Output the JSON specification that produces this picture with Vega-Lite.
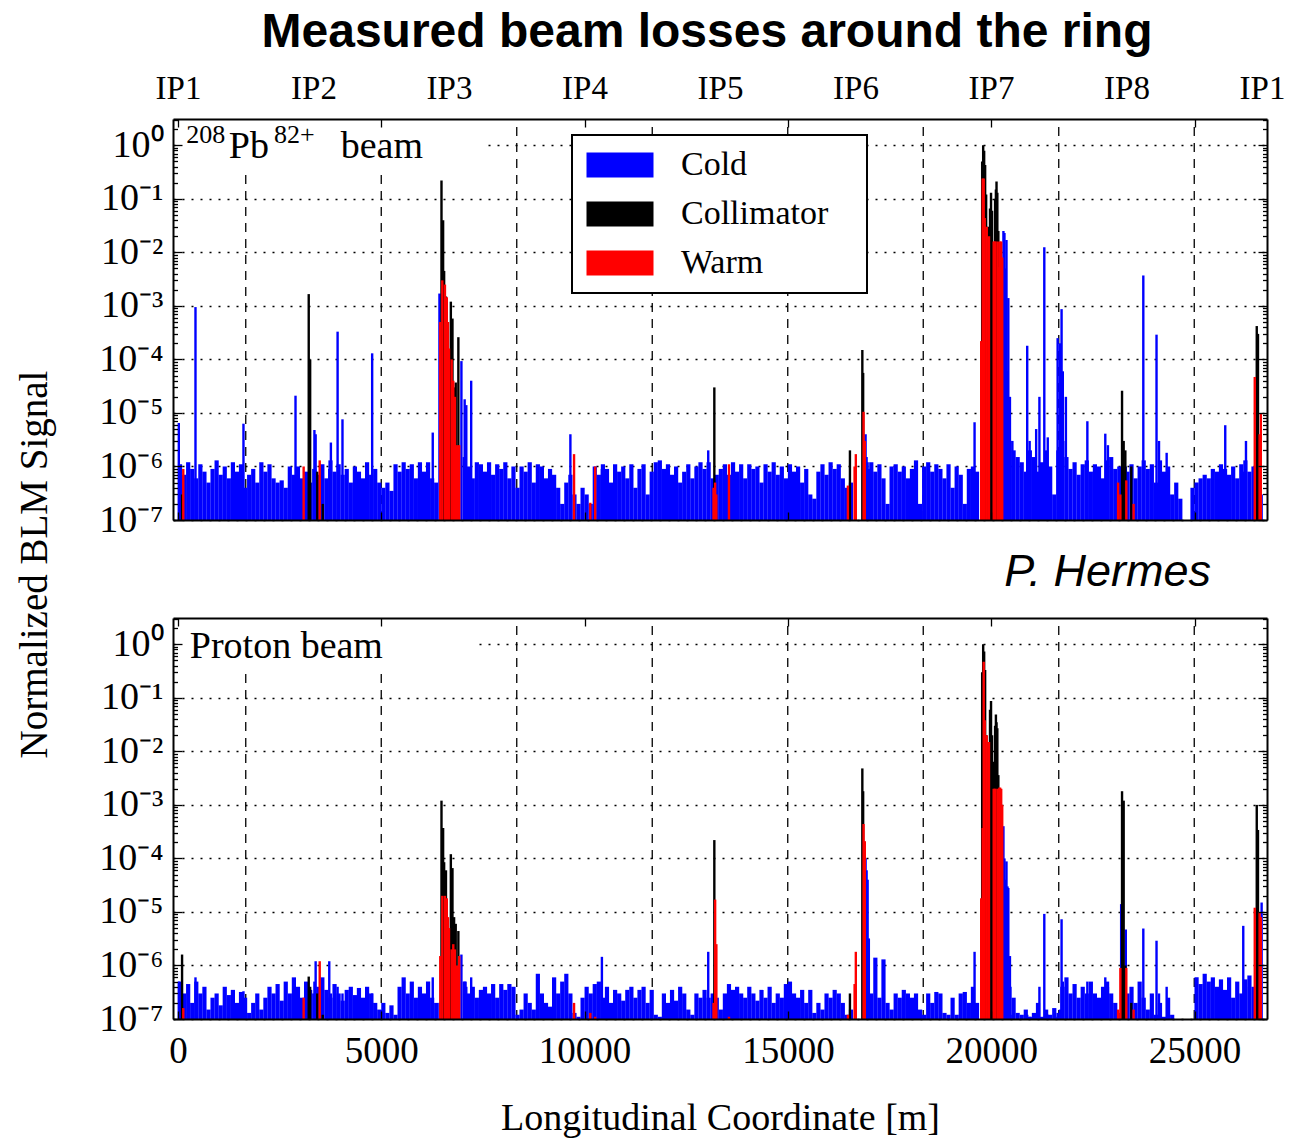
{
  "$schema": "https://vega.github.io/schema/vega-lite/v6.json",
  "autosize": {"type": "pad"},
  "padding": {"left": 15, "top": 9, "right": 5, "bottom": 5},
  "background": "white",
  "config": {
    "view": {"stroke": null},
    "font": "Liberation Serif",
    "axis": {"labelFont": "Liberation Serif", "titleFont": "Liberation Serif", "labelColor": "black", "titleColor": "black", "tickColor": "black", "domainColor": "black", "titleFontWeight": "normal"},
    "legend": {"strokeWidth": 2}
  },
  "title": {"text": "Measured beam losses around the ring", "font": "Liberation Sans", "fontSize": 48, "fontWeight": "bold", "color": "black", "anchor": "middle", "frame": "group", "dx": -13, "offset": 15},
  "datasets": {
    "oct": [{"x": 1666.2}, {"x": 4998.6}, {"x": 8331}, {"x": 11663.3}, {"x": 14995.7}, {"x": 18328}, {"x": 21660.4}, {"x": 24992.8}],
    "noise": [
      {"x":50,"a":1.1e-6,"b":5e-7},{"x":150,"a":7e-7,"b":3e-7},{"x":250,"a":1.2e-6,"b":4.5e-7},{"x":350,"a":9e-7,"b":2e-7},{"x":450,"a":6e-7,"b":5e-7},
      {"x":550,"a":1.1e-6,"b":3e-7},{"x":650,"a":8e-7,"b":4e-7},{"x":750,"a":5e-7,"b":1.5e-7},{"x":850,"a":9e-7,"b":2.5e-7},{"x":950,"a":1.3e-6,"b":3e-7},
      {"x":1050,"a":7e-7,"b":1.8e-7},{"x":1150,"a":1e-6,"b":4e-7},{"x":1250,"a":6e-7,"b":2.8e-7},{"x":1350,"a":1.2e-6,"b":3.5e-7},{"x":1450,"a":8e-7,"b":2e-7},
      {"x":1550,"a":1.1e-6,"b":3.2e-7},{"x":1650,"a":4e-7,"b":2.5e-7},{"x":1750,"a":7e-7,"b":1.3e-7},{"x":1850,"a":9e-7,"b":2e-7},{"x":1950,"a":5e-7,"b":3e-7},
      {"x":2050,"a":1.2e-6,"b":1.5e-7},{"x":2150,"a":8e-7,"b":2.5e-7},{"x":2250,"a":1.1e-6,"b":4e-7},{"x":2350,"a":6e-7,"b":3e-7},{"x":2450,"a":5e-7,"b":4.5e-7},
      {"x":2550,"a":5.5e-7,"b":2.2e-7},{"x":2650,"a":4e-7,"b":5e-7},{"x":2750,"a":1e-6,"b":3e-7},{"x":2850,"a":7e-7,"b":6e-7},{"x":2950,"a":1e-6,"b":4e-7},
      {"x":3050,"a":6e-7,"b":2.5e-7},{"x":3150,"a":8e-7,"b":5e-7},{"x":3250,"a":5e-7,"b":3.5e-7},{"x":3350,"a":9e-7,"b":3e-7},{"x":3450,"a":7e-7,"b":4e-7},
      {"x":3550,"a":1.1e-6,"b":6e-7},{"x":3650,"a":6e-7,"b":3.5e-7},{"x":3750,"a":1.3e-6,"b":2.5e-7},{"x":3850,"a":8e-7,"b":4.5e-7},{"x":3950,"a":1.1e-6,"b":3e-7},
      {"x":4050,"a":7e-7,"b":2.2e-7},{"x":4150,"a":9e-7,"b":3.5e-7},{"x":4250,"a":5e-7,"b":4e-7},{"x":4350,"a":1e-6,"b":2.8e-7},{"x":4450,"a":8e-7,"b":3.8e-7},
      {"x":4550,"a":6e-7,"b":2.5e-7},{"x":4650,"a":1.2e-6,"b":4e-7},{"x":4750,"a":7e-7,"b":3e-7},{"x":4850,"a":9e-7,"b":2e-7},{"x":4950,"a":5e-7,"b":1.5e-7},
      {"x":5050,"a":4e-7,"b":2e-7},{"x":5150,"a":5e-7,"b":1.3e-7},{"x":5250,"a":3.5e-7,"b":1.8e-7},{"x":5350,"a":1.1e-6,"b":1.2e-7},{"x":5450,"a":8e-7,"b":4e-7},
      {"x":5550,"a":1.2e-6,"b":6e-7},{"x":5650,"a":9e-7,"b":3e-7},{"x":5750,"a":1.1e-6,"b":5e-7},{"x":5850,"a":6e-7,"b":2.5e-7},{"x":5950,"a":1.2e-6,"b":4e-7},
      {"x":6050,"a":8e-7,"b":3e-7},{"x":6150,"a":1.2e-6,"b":5e-7},{"x":6250,"a":6e-7,"b":2.5e-7},{"x":6350,"a":5e-7,"b":2e-7},
      {"x":7050,"a":1.5e-6,"b":5e-7},{"x":7150,"a":1e-6,"b":3e-7},{"x":7250,"a":6e-7,"b":4e-7},{"x":7350,"a":1.2e-6,"b":2.5e-7},{"x":7450,"a":1.1e-6,"b":3.5e-7},
      {"x":7550,"a":8e-7,"b":4e-7},{"x":7650,"a":1.2e-6,"b":3e-7},{"x":7750,"a":7e-7,"b":4.5e-7},{"x":7850,"a":1.1e-6,"b":2.5e-7},{"x":7950,"a":9e-7,"b":4.5e-7},
      {"x":8050,"a":1.2e-6,"b":3.5e-7},{"x":8150,"a":6e-7,"b":4.5e-7},{"x":8250,"a":1e-6,"b":4e-7},{"x":8350,"a":4e-7,"b":1.2e-7},{"x":8450,"a":1e-6,"b":1.5e-7},
      {"x":8550,"a":8e-7,"b":3e-7},{"x":8650,"a":1.2e-6,"b":2e-7},{"x":8750,"a":5e-7,"b":1.5e-7},{"x":8850,"a":1.1e-6,"b":7e-7},{"x":8950,"a":1e-6,"b":3e-7},
      {"x":9050,"a":6e-7,"b":2e-7},{"x":9150,"a":9e-7,"b":1.7e-7},{"x":9250,"a":7e-7,"b":6e-7},{"x":9350,"a":4e-7,"b":3e-7},{"x":9450,"a":2e-7,"b":5e-7},
      {"x":9550,"a":5e-7,"b":7e-7},{"x":9650,"a":7e-7,"b":3e-7},{"x":9750,"a":3e-7,"b":1.3e-7},{"x":9850,"a":2e-7,"b":1.1e-7},{"x":9950,"a":4e-7,"b":2.5e-7},
      {"x":10050,"a":3e-7,"b":4e-7},{"x":10150,"a":2e-7,"b":3e-7},{"x":10250,"a":1e-6,"b":4.5e-7},{"x":10350,"a":7e-7,"b":5e-7},{"x":10450,"a":1.1e-6,"b":2.5e-7},
      {"x":10550,"a":9e-7,"b":4e-7},{"x":10650,"a":5e-7,"b":2e-7},{"x":10750,"a":1.1e-6,"b":3.5e-7},{"x":10850,"a":8e-7,"b":3e-7},{"x":10950,"a":1e-6,"b":2.2e-7},
      {"x":11050,"a":6e-7,"b":3.5e-7},{"x":11150,"a":1.1e-6,"b":4e-7},{"x":11250,"a":4e-7,"b":2.5e-7},{"x":11350,"a":9e-7,"b":3.5e-7},{"x":11450,"a":1.1e-6,"b":4e-7},
      {"x":11550,"a":3e-7,"b":2e-7},{"x":11650,"a":8e-7,"b":3.5e-7},{"x":11750,"a":1.2e-6,"b":1.2e-7},{"x":11850,"a":1.3e-6,"b":1.1e-7},{"x":11950,"a":9e-7,"b":3e-7},
      {"x":12050,"a":1.1e-6,"b":2e-7},{"x":12150,"a":7e-7,"b":3.5e-7},{"x":12250,"a":1e-6,"b":2.2e-7},{"x":12350,"a":5e-7,"b":4e-7},{"x":12450,"a":8e-7,"b":3e-7},
      {"x":12550,"a":1.1e-6,"b":1.5e-7},{"x":12650,"a":6e-7,"b":1.2e-7},{"x":12750,"a":1e-6,"b":3e-7},{"x":12850,"a":1.2e-6,"b":2.5e-7},{"x":12950,"a":9e-7,"b":3.5e-7},
      {"x":13050,"a":1.2e-6,"b":2.5e-7},{"x":13150,"a":6e-7,"b":3e-7},{"x":13250,"a":7e-7,"b":2.5e-7},{"x":13350,"a":9e-7,"b":1.5e-7},{"x":13450,"a":1.1e-6,"b":3e-7},
      {"x":13550,"a":7e-7,"b":4.5e-7},{"x":13650,"a":1.2e-6,"b":3.5e-7},{"x":13750,"a":8e-7,"b":4e-7},{"x":13850,"a":1.1e-6,"b":3e-7},{"x":13950,"a":6e-7,"b":2.5e-7},
      {"x":14050,"a":1.1e-6,"b":4e-7},{"x":14150,"a":9e-7,"b":3e-7},{"x":14250,"a":1e-6,"b":2.2e-7},{"x":14350,"a":5e-7,"b":3.5e-7},{"x":14450,"a":1.1e-6,"b":2.5e-7},
      {"x":14550,"a":8e-7,"b":4e-7},{"x":14650,"a":1.2e-6,"b":2e-7},{"x":14750,"a":7e-7,"b":3e-7},{"x":14850,"a":1e-6,"b":2.5e-7},{"x":14950,"a":6e-7,"b":4.5e-7},
      {"x":15050,"a":1.1e-6,"b":5e-7},{"x":15150,"a":8e-7,"b":3e-7},{"x":15250,"a":1e-6,"b":2.5e-7},{"x":15350,"a":5e-7,"b":3.5e-7},{"x":15450,"a":9e-7,"b":2e-7},
      {"x":15550,"a":3e-7,"b":3.5e-7},{"x":15650,"a":2.5e-7,"b":1.3e-7},{"x":15750,"a":8e-7,"b":2e-7},{"x":15850,"a":1.1e-6,"b":1.5e-7},{"x":15950,"a":7e-7,"b":3e-7},
      {"x":16050,"a":1.2e-6,"b":2.5e-7},{"x":16150,"a":9e-7,"b":3.5e-7},{"x":16250,"a":1.1e-6,"b":3e-7},{"x":16350,"a":6e-7,"b":2e-7},{"x":16450,"a":4e-7,"b":1.2e-7},
      {"x":16550,"a":5e-7,"b":1.5e-7},
      {"x":17050,"a":1.2e-6,"b":3e-7},{"x":17150,"a":8e-7,"b":1.4e-6},{"x":17250,"a":1.1e-6,"b":2.5e-7},{"x":17350,"a":6e-7,"b":1.3e-6},{"x":17450,"a":2e-7,"b":2e-7},
      {"x":17550,"a":1e-6,"b":1.5e-7},{"x":17650,"a":1.1e-6,"b":3e-7},{"x":17750,"a":8e-7,"b":2.5e-7},{"x":17850,"a":1e-6,"b":3.5e-7},{"x":17950,"a":6e-7,"b":3e-7},
      {"x":18050,"a":9e-7,"b":2.5e-7},{"x":18150,"a":1.3e-6,"b":3e-7},{"x":18250,"a":2e-7,"b":1.5e-7},{"x":18350,"a":1e-6,"b":1.2e-7},{"x":18450,"a":1.2e-6,"b":3e-7},
      {"x":18550,"a":8e-7,"b":2e-7},{"x":18650,"a":1.1e-6,"b":3.2e-7},{"x":18750,"a":9e-7,"b":3e-7},{"x":18850,"a":6e-7,"b":1.3e-7},{"x":18950,"a":1.1e-6,"b":1.2e-7},
      {"x":19050,"a":4e-7,"b":2.5e-7},{"x":19150,"a":1e-6,"b":1.2e-7},{"x":19250,"a":7e-7,"b":3e-7},{"x":19350,"a":2e-7,"b":3.2e-7},{"x":19450,"a":9e-7,"b":2e-7},
      {"x":19550,"a":1e-6,"b":4e-7},{"x":19650,"a":8e-7,"b":2e-7},
      {"x":20350,"a":5e-6,"b":6e-7},{"x":20450,"a":3e-6,"b":4e-7},{"x":20550,"a":2e-6,"b":2.5e-7},{"x":20650,"a":1.5e-6,"b":1.3e-7},{"x":20750,"a":1.2e-6,"b":1.2e-7},
      {"x":20850,"a":8e-7,"b":1.5e-7},{"x":20950,"a":2e-6,"b":1.1e-7},{"x":21050,"a":1.5e-6,"b":1.3e-7},{"x":21150,"a":8e-7,"b":2e-7},{"x":21250,"a":1.2e-6,"b":1.1e-7},
      {"x":21350,"a":2e-6,"b":1.5e-7},{"x":21450,"a":1e-6,"b":1.2e-7},{"x":21550,"a":3e-7,"b":1.6e-7},{"x":21650,"a":2e-6,"b":1.1e-7},{"x":21750,"a":3e-6,"b":4e-7},
      {"x":21850,"a":1.5e-6,"b":6e-7},{"x":21950,"a":9e-7,"b":3e-7},{"x":22050,"a":1.2e-6,"b":4.5e-7},{"x":22150,"a":7e-7,"b":2.5e-7},{"x":22250,"a":1.1e-6,"b":4e-7},
      {"x":22350,"a":1.3e-6,"b":3e-7},{"x":22450,"a":8e-7,"b":5e-7},{"x":22550,"a":1.1e-6,"b":3e-7},{"x":22650,"a":1e-6,"b":2.5e-7},{"x":22750,"a":6e-7,"b":4e-7},
      {"x":22850,"a":1.3e-6,"b":5e-7},{"x":22950,"a":1.5e-6,"b":3e-7},{"x":23050,"a":9e-7,"b":2e-7},{"x":23150,"a":1e-6,"b":1.3e-7},
      {"x":23350,"a":8e-7,"b":3e-7},{"x":23450,"a":1.1e-6,"b":4e-7},{"x":23550,"a":6e-7,"b":2e-7},{"x":23650,"a":1e-6,"b":5e-7},{"x":23750,"a":1.3e-6,"b":2.5e-7},
      {"x":23850,"a":9e-7,"b":1.5e-7},{"x":23950,"a":1.1e-6,"b":3e-7},{"x":24050,"a":5e-7,"b":1.2e-7},{"x":24150,"a":1.3e-6,"b":2e-7},{"x":24250,"a":8e-7,"b":1.1e-7},
      {"x":24350,"a":1e-6,"b":2.5e-7},{"x":24450,"a":3e-7,"b":1.2e-7},{"x":24550,"a":5e-7,"b":null},{"x":24650,"a":2.5e-7,"b":null},{"x":24950,"a":4e-7,"b":null},
      {"x":25050,"a":5e-7,"b":6e-7},{"x":25150,"a":6e-7,"b":4.5e-7},{"x":25250,"a":7e-7,"b":7e-7},{"x":25350,"a":6e-7,"b":5e-7},{"x":25450,"a":9e-7,"b":6e-7},
      {"x":25550,"a":8e-7,"b":4e-7},{"x":25650,"a":1.1e-6,"b":5.5e-7},{"x":25750,"a":9e-7,"b":3.5e-7},{"x":25850,"a":7e-7,"b":6e-7},{"x":25950,"a":1e-6,"b":2.5e-7},
      {"x":26050,"a":6e-7,"b":5e-7},{"x":26150,"a":1.1e-6,"b":3e-7},{"x":26250,"a":1.3e-6,"b":5.5e-7},{"x":26350,"a":8e-7,"b":6.5e-7},{"x":26450,"a":1e-6,"b":4e-7},
      {"x":26550,"a":7e-7,"b":3e-7}
    ],
    "peaks": [
      {"x":20,"t":"Cold","a":6.5e-6,"b":5e-7},{"x":100,"t":"Collimator","a":3e-7,"b":1.6e-6},{"x":130,"t":"Warm","a":9e-7,"b":1.6e-7},
      {"x":430,"t":"Cold","a":9.5e-4,"b":6e-7},{"x":1610,"t":"Cold","a":6.3e-6,"b":3.3e-7},{"x":2890,"t":"Cold","a":2.1e-5,"b":2.5e-7},
      {"x":3090,"t":"Warm","a":1e-6,"b":2.5e-7},{"x":3215,"t":"Collimator","a":1.66e-3,"b":6.2e-7},{"x":3250,"t":"Collimator","a":1e-4,"b":4e-7},
      {"x":3355,"t":"Cold","a":4.8e-6,"b":5e-7},{"x":3385,"t":"Cold","a":4e-6,"b":1.2e-6},{"x":3425,"t":"Collimator","a":8e-7,"b":3e-7},
      {"x":3485,"t":"Warm","a":1.3e-6,"b":1.2e-6},{"x":3560,"t":"Collimator","a":2e-7,"b":1.2e-7},{"x":3720,"t":"Cold","a":9e-7,"b":1.2e-6},
      {"x":3760,"t":"Cold","a":2.8e-6,"b":3e-7},{"x":3925,"t":"Cold","a":3.3e-4,"b":4e-7},{"x":4045,"t":"Cold","a":7.6e-6,"b":3e-7},
      {"x":4775,"t":"Cold","a":1.3e-4,"b":3e-7},{"x":6265,"t":"Cold","a":4.3e-6,"b":6e-7},
      {"x":6430,"t":"Cold","a":1.7e-3,"b":2e-7},{"x":6450,"t":"Warm","a":5e-4,"b":1.5e-6},{"x":6480,"t":"Collimator","a":0.22,"b":1.2e-3},
      {"x":6500,"t":"Warm","a":3e-3,"b":2e-5},{"x":6520,"t":"Collimator","a":0.04,"b":3.7e-4},{"x":6545,"t":"Collimator","a":4.5e-3,"b":8.5e-5},
      {"x":6565,"t":"Warm","a":2.5e-3,"b":2e-5},{"x":6590,"t":"Collimator","a":1.5e-3,"b":6e-5},{"x":6610,"t":"Warm","a":1.45e-3,"b":1.8e-5},
      {"x":6640,"t":"Warm","a":5e-4,"b":8e-6},{"x":6665,"t":"Warm","a":1.6e-4,"b":5e-6},{"x":6710,"t":"Collimator","a":1.2e-3,"b":1.2e-4},
      {"x":6730,"t":"Warm","a":1e-4,"b":2e-6},{"x":6750,"t":"Collimator","a":5.8e-4,"b":6.6e-5},{"x":6770,"t":"Warm","a":4e-5,"b":2.5e-6},
      {"x":6790,"t":"Collimator","a":3e-5,"b":8e-6},{"x":6810,"t":"Warm","a":2e-5,"b":2e-6},{"x":6830,"t":"Collimator","a":3.7e-5,"b":6e-6},
      {"x":6860,"t":"Warm","a":2.5e-6,"b":1e-6},{"x":6895,"t":"Collimator","a":2.6e-4,"b":4.4e-6},{"x":6915,"t":"Warm","a":2.5e-6,"b":1.5e-6},
      {"x":6970,"t":"Cold","a":9.3e-5,"b":1.6e-6},{"x":7050,"t":"Cold","a":1.8e-5,"b":5e-7},{"x":7090,"t":"Cold","a":1.4e-5,"b":4e-7},
      {"x":7210,"t":"Cold","a":4e-5,"b":6e-7},
      {"x":9650,"t":"Cold","a":4e-6,"b":2.5e-7},{"x":9740,"t":"Warm","a":1.7e-6,"b":2e-7},{"x":10140,"t":"Warm","a":2.1e-7,"b":1.3e-7},
      {"x":10260,"t":"Warm","a":1e-6,"b":1.1e-7},{"x":10425,"t":"Cold","a":9e-7,"b":1.45e-6},
      {"x":13040,"t":"Cold","a":2e-6,"b":1.8e-6},{"x":13170,"t":"Warm","a":4e-7,"b":2e-7},{"x":13190,"t":"Collimator","a":3e-5,"b":2.2e-4},
      {"x":13210,"t":"Warm","a":5e-7,"b":1.7e-5},{"x":13240,"t":"Warm","a":3e-7,"b":2.5e-6},{"x":13550,"t":"Warm","a":1.1e-6,"b":1.1e-7},
      {"x":16475,"t":"Warm","a":4.4e-7,"b":1.2e-7},{"x":16525,"t":"Collimator","a":2e-6,"b":3e-7},{"x":16640,"t":"Warm","a":1e-6,"b":4.5e-7},
      {"x":16670,"t":"Warm","a":1.7e-6,"b":1.8e-6},{"x":16830,"t":"Collimator","a":1.5e-4,"b":4.8e-3},{"x":16850,"t":"Collimator","a":5.6e-5,"b":1.8e-3},
      {"x":16860,"t":"Warm","a":1.05e-5,"b":4.4e-4},{"x":16890,"t":"Warm","a":3e-6,"b":2.1e-4},{"x":16910,"t":"Cold","a":4e-6,"b":1e-4},
      {"x":16935,"t":"Cold","a":1.5e-6,"b":6e-5},{"x":16960,"t":"Cold","a":1.2e-6,"b":4e-5},{"x":16990,"t":"Cold","a":9e-7,"b":3.2e-6},
      {"x":19590,"t":"Cold","a":6.7e-6,"b":1.8e-6},{"x":19753,"t":"Warm","a":2.2e-4,"b":1.8e-5},{"x":19777,"t":"Collimator","a":0.5,"b":0.3},
      {"x":19790,"t":"Warm","a":0.24,"b":3.7e-4},{"x":19802,"t":"Collimator","a":1.0,"b":1.0},{"x":19815,"t":"Warm","a":0.24,"b":0.47},
      {"x":19826,"t":"Collimator","a":0.79,"b":0.73},{"x":19840,"t":"Warm","a":0.044,"b":0.038},{"x":19850,"t":"Collimator","a":0.43,"b":0.33},
      {"x":19875,"t":"Collimator","a":0.12,"b":0.02},{"x":19890,"t":"Warm","a":0.03,"b":0.02},{"x":19920,"t":"Collimator","a":0.03,"b":0.015},
      {"x":19945,"t":"Warm","a":0.02,"b":0.015},{"x":19970,"t":"Collimator","a":0.066,"b":0.06},{"x":19995,"t":"Collimator","a":0.13,"b":0.087},
      {"x":20020,"t":"Collimator","a":0.06,"b":0.02},{"x":20045,"t":"Collimator","a":5e-3,"b":6.4e-3},{"x":20060,"t":"Warm","a":0.016,"b":2e-3},
      {"x":20070,"t":"Collimator","a":1e-3,"b":5e-3},{"x":20080,"t":"Warm","a":0.016,"b":2e-3},{"x":20095,"t":"Collimator","a":0.1,"b":0.03},
      {"x":20105,"t":"Warm","a":0.016,"b":2e-3},{"x":20115,"t":"Collimator","a":0.15,"b":0.049},{"x":20130,"t":"Collimator","a":0.21,"b":0.035},
      {"x":20150,"t":"Collimator","a":0.13,"b":0.027},{"x":20160,"t":"Warm","a":0.016,"b":2e-3},{"x":20175,"t":"Collimator","a":0.025,"b":3.6e-3},
      {"x":20190,"t":"Collimator","a":9e-3,"b":8.6e-4},{"x":20200,"t":"Warm","a":5.3e-3,"b":2.1e-3},{"x":20220,"t":"Warm","a":0.016,"b":2.1e-3},
      {"x":20245,"t":"Warm","a":0.016,"b":2e-3},{"x":20270,"t":"Warm","a":8e-3,"b":1e-3},
      {"x":20300,"t":"Cold","a":0.025,"b":4e-4},{"x":20325,"t":"Cold","a":0.023,"b":1e-4},{"x":20350,"t":"Cold","a":5e-3,"b":4e-5},
      {"x":20375,"t":"Cold","a":0.017,"b":8.8e-5},{"x":20400,"t":"Cold","a":6e-5,"b":3e-5},{"x":20420,"t":"Cold","a":1.4e-3,"b":2.8e-5},
      {"x":20460,"t":"Cold","a":2e-5,"b":1.5e-6},{"x":20520,"t":"Cold","a":3e-6,"b":1.2e-7},{"x":20885,"t":"Cold","a":1.8e-4,"b":1.2e-7},
      {"x":20945,"t":"Cold","a":3e-6,"b":1.1e-7},{"x":21105,"t":"Cold","a":5e-6,"b":1.2e-7},{"x":21185,"t":"Cold","a":2e-5,"b":4e-7},
      {"x":21305,"t":"Cold","a":0.0124,"b":9.2e-6},{"x":21390,"t":"Cold","a":3.5e-6,"b":1.2e-7},{"x":21633,"t":"Cold","a":2.5e-4,"b":1.3e-7},
      {"x":21690,"t":"Cold","a":2e-4,"b":1.5e-7},{"x":21730,"t":"Cold","a":8.7e-4,"b":7.3e-6},{"x":21760,"t":"Cold","a":6e-5,"b":5e-7},
      {"x":21836,"t":"Cold","a":2e-5,"b":4e-7},{"x":22364,"t":"Cold","a":7e-6,"b":5e-7},{"x":22805,"t":"Cold","a":4.1e-6,"b":6e-7},
      {"x":22870,"t":"Cold","a":2.5e-6,"b":4e-7},{"x":23120,"t":"Warm","a":5e-7,"b":1.5e-7},{"x":23176,"t":"Warm","a":3e-7,"b":9e-7},
      {"x":23195,"t":"Cold","a":5e-7,"b":1.4e-5},{"x":23217,"t":"Collimator","a":2.6e-5,"b":1.8e-3},{"x":23257,"t":"Collimator","a":3e-6,"b":1.2e-3},
      {"x":23298,"t":"Collimator","a":2e-6,"b":1e-6},{"x":23310,"t":"Cold","a":1e-6,"b":4.7e-6},{"x":23322,"t":"Warm","a":5.5e-7,"b":9e-7},
      {"x":23444,"t":"Collimator","a":1e-6,"b":2e-7},{"x":23501,"t":"Warm","a":2e-7,"b":1.5e-7},{"x":23740,"t":"Cold","a":3.7e-3,"b":4.9e-6},
      {"x":24065,"t":"Cold","a":2.9e-4,"b":2.9e-6},{"x":24126,"t":"Cold","a":3e-6,"b":3e-7},{"x":24314,"t":"Cold","a":1.8e-6,"b":4e-7},
      {"x":25755,"t":"Cold","a":5.9e-6,"b":3e-7},{"x":26198,"t":"Cold","a":8e-7,"b":5.5e-6},{"x":26265,"t":"Cold","a":3e-6,"b":4e-7},
      {"x":26481,"t":"Warm","a":4.7e-5,"b":1.2e-5},{"x":26530,"t":"Collimator","a":4.2e-4,"b":1e-3},{"x":26560,"t":"Collimator","a":3e-4,"b":3.4e-4},
      {"x":26600,"t":"Warm","a":4e-6,"b":1e-5},{"x":26630,"t":"Warm","a":1e-5,"b":8e-6},{"x":26650,"t":"Cold","a":3e-7,"b":1.5e-5}
    ]
  },
  "bounds": "flush",
  "spacing": 98,
  "resolve": {"legend": {"color": "independent"}},
  "vconcat": [
    {
      "width": 1094,
      "height": 401,
      "resolve": {"axis": {"x": "independent", "y": "independent"}},
      "layer": [
        {
          "data": {"name": "oct"},
          "mark": {"type": "rule", "strokeDash": [9, 7], "strokeWidth": 1.3, "color": "black"},
          "encoding": {
            "x": {"field": "x", "type": "quantitative", "scale": {"domain": [0, 26659], "nice": false, "zero": false},
              "axis": {"orient": "top", "values": [0, 3332.375, 6664.75, 9997.125, 13329.5, 16661.875, 19994.25, 23326.625, 26659], "labelExpr": "'IP' + (round(datum.value / 3332.375) % 8 + 1)", "ticks": false, "domain": false, "grid": false, "labelFontSize": 33, "labelPadding": 14, "labelFlush": false, "labelOverlap": false, "title": null, "zindex": 1}},
            "y": {"datum": 1e-7, "type": "quantitative", "scale": {"type": "log", "domain": [1e-7, 3.1], "nice": false},
              "axis": {"orient": "right", "values": [2e-7,3e-7,4e-7,5e-7,6e-7,7e-7,8e-7,9e-7,2e-6,3e-6,4e-6,5e-6,6e-6,7e-6,8e-6,9e-6,2e-5,3e-5,4e-5,5e-5,6e-5,7e-5,8e-5,9e-5,2e-4,3e-4,4e-4,5e-4,6e-4,7e-4,8e-4,9e-4,0.002,0.003,0.004,0.005,0.006,0.007,0.008,0.009,0.02,0.03,0.04,0.05,0.06,0.07,0.08,0.09,0.2,0.3,0.4,0.5,0.6,0.7,0.8,0.9,2,3], "labels": false, "tickSize": -4.5, "tickWidth": 1.3, "domain": false, "grid": false, "title": null, "zindex": 1}},
            "y2": {"datum": 3.1}
          }
        },
        {
          "data": {"values": [{}]},
          "mark": {"type": "rect", "fill": "white"},
          "encoding": {
            "x": {"datum": 0, "type": "quantitative", "axis": null},
            "x2": {"datum": 7530},
            "y": {"datum": 0.28, "type": "quantitative",
              "axis": {"orient": "left", "values": [1e-7, 1e-6, 1e-5, 1e-4, 0.001, 0.01, 0.1, 1], "labelExpr": "'10' + (datum.value < 0.5 ? '⁻' : '') + ['⁰','¹','²','³','⁴','⁵','⁶','⁷'][abs(round(log(datum.value) / LN10))]", "labelFontSize": 38, "labelPadding": 10, "labelOverlap": false, "labelFlush": false, "ticks": false, "domain": false, "grid": true, "gridDash": [2, 7], "gridColor": "black", "gridWidth": 1.5, "gridOpacity": 1, "title": "Normalized BLM Signal", "titleFontSize": 39, "titleX": -127, "titleY": 445, "titleAngle": 270, "titleAlign": "center", "titleBaseline": "alphabetic", "zindex": 0}},
            "y2": {"datum": 3.1}
          }
        },
        {
          "data": {"name": "noise"},
          "mark": {"type": "bar", "width": 4.2, "clip": true, "color": "#0000ff"},
          "encoding": {
            "x": {"field": "x", "type": "quantitative",
              "axis": {"orient": "bottom", "values": [0, 5000, 10000, 15000, 20000, 25000], "labels": false, "tickSize": -8, "tickWidth": 1.3, "domain": true, "domainWidth": 2, "grid": false, "title": null, "zindex": 1}},
            "y": {"field": "a", "type": "quantitative",
              "axis": {"orient": "left", "values": [1e-7, 1e-6, 1e-5, 1e-4, 0.001, 0.01, 0.1, 1], "labels": false, "tickSize": -9, "tickWidth": 1.3, "domain": true, "domainWidth": 2, "grid": false, "title": null, "zindex": 1}},
            "y2": {"datum": 1e-7}
          }
        },
        {
          "data": {"name": "peaks"},
          "mark": {"type": "bar", "width": 2.4, "clip": true},
          "encoding": {
            "x": {"field": "x", "type": "quantitative",
              "axis": {"orient": "top", "values": [0, 5000, 10000, 15000, 20000, 25000], "labels": false, "tickSize": -8, "tickWidth": 1.3, "domain": true, "domainWidth": 2, "grid": false, "title": null, "zindex": 1}},
            "y": {"field": "a", "type": "quantitative",
              "axis": {"orient": "right", "values": [1e-7, 1e-6, 1e-5, 1e-4, 0.001, 0.01, 0.1, 1], "labels": false, "tickSize": -9, "tickWidth": 1.3, "domain": true, "domainWidth": 2, "grid": false, "title": null, "zindex": 1}},
            "y2": {"datum": 1e-7},
            "color": {"field": "t", "type": "nominal", "scale": {"domain": ["Cold", "Collimator", "Warm"], "range": ["#0000ff", "#000000", "#ff0000"]},
              "legend": {"orient": "none", "legendX": 399, "legendY": 16, "title": null, "symbolType": "M-2.68,-1H2.68V1H-2.68Z", "symbolSize": 625, "symbolStrokeWidth": 0, "symbolOpacity": 1, "symbolOffset": 18, "labelOffset": 44, "labelFontSize": 34, "labelFont": "Liberation Serif", "labelColor": "black", "labelLimit": 500, "labelExpr": "datum.label + '\u00a0\u00a0\u00a0\u200b'", "rowPadding": 15, "padding": 13, "strokeColor": "black", "fillColor": "white"}},
            "order": {"field": "t", "type": "nominal", "sort": "ascending"}
          }
        },
        {
          "data": {"values": [{}]},
          "mark": {"type": "text", "align": "left", "baseline": "alphabetic", "fontSize": 26, "font": "Liberation Serif", "color": "black"},
          "encoding": {
            "x": {"datum": 200, "type": "quantitative", "axis": null},
            "y": {"datum": 1.1, "type": "quantitative",
              "axis": {"orient": "left", "values": [2e-7,3e-7,4e-7,5e-7,6e-7,7e-7,8e-7,9e-7,2e-6,3e-6,4e-6,5e-6,6e-6,7e-6,8e-6,9e-6,2e-5,3e-5,4e-5,5e-5,6e-5,7e-5,8e-5,9e-5,2e-4,3e-4,4e-4,5e-4,6e-4,7e-4,8e-4,9e-4,0.002,0.003,0.004,0.005,0.006,0.007,0.008,0.009,0.02,0.03,0.04,0.05,0.06,0.07,0.08,0.09,0.2,0.3,0.4,0.5,0.6,0.7,0.8,0.9,2,3], "labels": false, "tickSize": -4.5, "tickWidth": 1.3, "domain": false, "grid": false, "title": null, "zindex": 1}},
            "text": {"value": "208"}
          }
        },
        {
          "data": {"values": [{}]},
          "mark": {"type": "text", "align": "left", "baseline": "alphabetic", "fontSize": 38, "font": "Liberation Serif", "color": "black"},
          "encoding": {
            "x": {"datum": 1250, "type": "quantitative", "axis": null},
            "y": {"datum": 0.571, "type": "quantitative", "axis": null},
            "text": {"value": "Pb"}
          }
        },
        {
          "data": {"values": [{}]},
          "mark": {"type": "text", "align": "left", "baseline": "alphabetic", "fontSize": 26, "font": "Liberation Serif", "color": "black"},
          "encoding": {
            "x": {"datum": 2360, "type": "quantitative", "axis": null},
            "y": {"datum": 1.1, "type": "quantitative", "axis": null},
            "text": {"value": "82+"}
          }
        },
        {
          "data": {"values": [{}]},
          "mark": {"type": "text", "align": "left", "baseline": "alphabetic", "fontSize": 38, "font": "Liberation Serif", "color": "black"},
          "encoding": {
            "x": {"datum": 4000, "type": "quantitative", "axis": null},
            "y": {"datum": 0.571, "type": "quantitative", "axis": null},
            "text": {"value": "beam"}
          }
        }
      ]
    },
    {
      "width": 1094,
      "height": 401,
      "title": {"text": "P. Hermes", "font": "Liberation Sans", "fontSize": 45, "fontStyle": "italic", "fontWeight": "normal", "color": "black", "anchor": "end", "frame": "group", "dx": -56, "offset": 22},
      "resolve": {"axis": {"x": "independent", "y": "independent"}},
      "layer": [
        {
          "data": {"name": "oct"},
          "mark": {"type": "rule", "strokeDash": [9, 7], "strokeWidth": 1.3, "color": "black"},
          "encoding": {
            "x": {"field": "x", "type": "quantitative", "scale": {"domain": [0, 26659], "nice": false, "zero": false}, "axis": null},
            "y": {"datum": 1e-7, "type": "quantitative", "scale": {"type": "log", "domain": [1e-7, 3.1], "nice": false},
              "axis": {"orient": "right", "values": [2e-7,3e-7,4e-7,5e-7,6e-7,7e-7,8e-7,9e-7,2e-6,3e-6,4e-6,5e-6,6e-6,7e-6,8e-6,9e-6,2e-5,3e-5,4e-5,5e-5,6e-5,7e-5,8e-5,9e-5,2e-4,3e-4,4e-4,5e-4,6e-4,7e-4,8e-4,9e-4,0.002,0.003,0.004,0.005,0.006,0.007,0.008,0.009,0.02,0.03,0.04,0.05,0.06,0.07,0.08,0.09,0.2,0.3,0.4,0.5,0.6,0.7,0.8,0.9,2,3], "labels": false, "tickSize": -4.5, "tickWidth": 1.3, "domain": false, "grid": false, "title": null, "zindex": 1}},
            "y2": {"datum": 3.1}
          }
        },
        {
          "data": {"values": [{}]},
          "mark": {"type": "rect", "fill": "white"},
          "encoding": {
            "x": {"datum": 0, "type": "quantitative", "axis": null},
            "x2": {"datum": 7380},
            "y": {"datum": 0.28, "type": "quantitative",
              "axis": {"orient": "left", "values": [1e-7, 1e-6, 1e-5, 1e-4, 0.001, 0.01, 0.1, 1], "labelExpr": "'10' + (datum.value < 0.5 ? '⁻' : '') + ['⁰','¹','²','³','⁴','⁵','⁶','⁷'][abs(round(log(datum.value) / LN10))]", "labelFontSize": 38, "labelPadding": 10, "labelOverlap": false, "labelFlush": false, "ticks": false, "domain": false, "grid": true, "gridDash": [2, 7], "gridColor": "black", "gridWidth": 1.5, "gridOpacity": 1, "title": null, "zindex": 0}},
            "y2": {"datum": 3.1}
          }
        },
        {
          "data": {"name": "noise"},
          "mark": {"type": "bar", "width": 4.2, "clip": true, "color": "#0000ff"},
          "encoding": {
            "x": {"field": "x", "type": "quantitative",
              "axis": {"orient": "bottom", "values": [0, 5000, 10000, 15000, 20000, 25000], "format": "d", "labels": true, "labelFontSize": 37, "labelPadding": 22, "labelFlush": false, "labelOverlap": false, "tickSize": -8, "tickWidth": 1.3, "domain": true, "domainWidth": 2, "grid": false, "title": "Longitudinal Coordinate [m]", "titleFontSize": 38, "titlePadding": 30, "zindex": 1}},
            "y": {"field": "b", "type": "quantitative",
              "axis": {"orient": "left", "values": [1e-7, 1e-6, 1e-5, 1e-4, 0.001, 0.01, 0.1, 1], "labels": false, "tickSize": -9, "tickWidth": 1.3, "domain": true, "domainWidth": 2, "grid": false, "title": null, "zindex": 1}},
            "y2": {"datum": 1e-7}
          }
        },
        {
          "data": {"name": "peaks"},
          "mark": {"type": "bar", "width": 2.4, "clip": true},
          "encoding": {
            "x": {"field": "x", "type": "quantitative",
              "axis": {"orient": "top", "values": [0, 5000, 10000, 15000, 20000, 25000], "labels": false, "tickSize": -8, "tickWidth": 1.3, "domain": true, "domainWidth": 2, "grid": false, "title": null, "zindex": 1}},
            "y": {"field": "b", "type": "quantitative",
              "axis": {"orient": "right", "values": [1e-7, 1e-6, 1e-5, 1e-4, 0.001, 0.01, 0.1, 1], "labels": false, "tickSize": -9, "tickWidth": 1.3, "domain": true, "domainWidth": 2, "grid": false, "title": null, "zindex": 1}},
            "y2": {"datum": 1e-7},
            "color": {"field": "t", "type": "nominal", "scale": {"domain": ["Cold", "Collimator", "Warm"], "range": ["#0000ff", "#000000", "#ff0000"]}, "legend": null},
            "order": {"field": "t", "type": "nominal", "sort": "ascending"}
          }
        },
        {
          "data": {"values": [{}]},
          "mark": {"type": "text", "align": "left", "baseline": "alphabetic", "fontSize": 38, "font": "Liberation Serif", "color": "black"},
          "encoding": {
            "x": {"datum": 290, "type": "quantitative", "axis": null},
            "y": {"datum": 0.552, "type": "quantitative",
              "axis": {"orient": "left", "values": [2e-7,3e-7,4e-7,5e-7,6e-7,7e-7,8e-7,9e-7,2e-6,3e-6,4e-6,5e-6,6e-6,7e-6,8e-6,9e-6,2e-5,3e-5,4e-5,5e-5,6e-5,7e-5,8e-5,9e-5,2e-4,3e-4,4e-4,5e-4,6e-4,7e-4,8e-4,9e-4,0.002,0.003,0.004,0.005,0.006,0.007,0.008,0.009,0.02,0.03,0.04,0.05,0.06,0.07,0.08,0.09,0.2,0.3,0.4,0.5,0.6,0.7,0.8,0.9,2,3], "labels": false, "tickSize": -4.5, "tickWidth": 1.3, "domain": false, "grid": false, "title": null, "zindex": 1}},
            "text": {"value": "Proton beam"}
          }
        }
      ]
    }
  ]
}
